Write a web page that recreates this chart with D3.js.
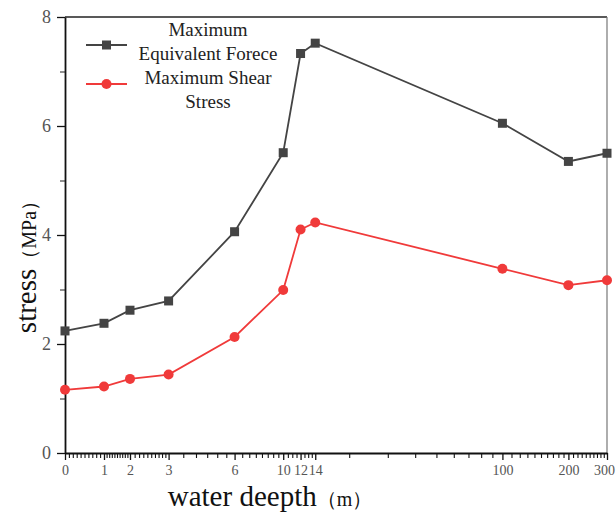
<!DOCTYPE html>
<html lang="en">
<head>
<meta charset="UTF-8">
<title>stress vs water depth</title>
<style>
  body { margin: 0; background: #fff; }
  svg { display: block; font-family: "Liberation Serif", "DejaVu Serif", serif; }
  .tick text { fill: #555; }
</style>
</head>
<body>
<svg id="chart" width="616" height="516"></svg>
<script src="https://cdnjs.cloudflare.com/ajax/libs/d3/7.8.5/d3.min.js"></script>
<script>
// ---- data ----
const depths = [0, 1, 2, 3, 6, 10, 12, 14, 100, 200, 300];
const equivalentForce = [2.24, 2.38, 2.62, 2.79, 4.06, 5.51, 7.33, 7.52, 6.05, 5.35, 5.50];
const shearStress = [1.16, 1.22, 1.36, 1.44, 2.13, 2.99, 4.10, 4.23, 3.38, 3.08, 3.17];
const xTickLabels = [0, 1, 2, 3, 6, 10, 12, 14, 100, 200, 300];
const yTicks = [0, 2, 4, 6, 8];
const yMinorTicks = [1, 3, 5, 7];
const seriesNames = [["Maximum", "Equivalent Forece"], ["Maximum Shear", "Stress"]];

const pLeft = 65, pRight = 607, pTop = 17, pBottom = 453;
const svg = d3.select("#chart");

// x: short linear stretch for 0..2, then log
const xLow = d3.scaleLinear().domain([0, 1, 2]).range([pLeft, pLeft + 39, pLeft + 65]);
const xHigh = d3.scaleLog().domain([2, 300]).range([pLeft + 65, pRight]);
const xPos = v => v < 2 ? xLow(v) : xHigh(v);

// minor ticks on the depth axis
const minor = [];
for (let v = 0.1; v < 3; v += 0.1) minor.push(+v.toFixed(1));
for (let v = 3.5; v < 14; v += 0.5) minor.push(v);
for (let v = 20; v < 100; v += 10) minor.push(v);
for (let v = 110; v < 300; v += 10) minor.push(v);
const minorTicks = minor.filter(v => !xTickLabels.includes(v));

// polylinear scale so d3.axisBottom can place all ticks
const knots = Array.from(new Set([...xTickLabels, ...minorTicks, ...depths])).sort((a, b) => a - b);
const x = d3.scaleLinear().domain(knots).range(knots.map(xPos));

const y = d3.scaleLinear().domain([0, 8]).range([pBottom, pTop]);

// frame (top/right)
svg.append("line").attr("x1", pLeft).attr("x2", pRight).attr("y1", pTop).attr("y2", pTop)
  .attr("stroke", "#222").attr("stroke-width", 1.5);
svg.append("line").attr("x1", pRight).attr("x2", pRight).attr("y1", pTop).attr("y2", pBottom)
  .attr("stroke", "#777").attr("stroke-width", 1.2);

// major axes
const xAxis = svg.append("g").attr("transform", `translate(0,${pBottom})`)
  .call(d3.axisBottom(x).tickValues(xTickLabels).tickSize(7).tickSizeOuter(0).tickPadding(2).tickFormat(d3.format("d")));
xAxis.select(".domain").attr("stroke", "#111").attr("stroke-width", 1.8);
xAxis.selectAll("line").attr("stroke", "#111").attr("stroke-width", 1.3);
xAxis.selectAll("text").attr("font-size", 14).attr("dy", "0.9em")
  .attr("font-family", "Liberation Serif")
  .attr("dx", d => d === 300 ? -3 : 0);

const yAxis = svg.append("g").attr("transform", `translate(${pLeft},0)`)
  .call(d3.axisLeft(y).tickValues(yTicks).tickSize(8).tickSizeOuter(0).tickPadding(6));
yAxis.select(".domain").attr("stroke", "#111").attr("stroke-width", 1.8);
yAxis.selectAll("line").attr("stroke", "#111").attr("stroke-width", 1.3);
yAxis.selectAll("text").attr("font-size", 18).attr("font-family", "Liberation Serif");

// minor ticks
const xMinor = svg.append("g").attr("transform", `translate(0,${pBottom})`)
  .call(d3.axisBottom(x).tickValues(minorTicks).tickSize(5).tickSizeOuter(0).tickFormat(() => ""));
xMinor.select(".domain").remove();
xMinor.selectAll("line").attr("stroke", "#111").attr("stroke-width", 1.1);

const yMinor = svg.append("g").attr("transform", `translate(${pLeft},0)`)
  .call(d3.axisLeft(y).tickValues(yMinorTicks).tickSize(5).tickSizeOuter(0).tickFormat(() => ""));
yMinor.select(".domain").remove();
yMinor.selectAll("line").attr("stroke", "#222");

// series
const series = [
  { values: equivalentForce, color: "#444444", shape: "square" },
  { values: shearStress, color: "#f03a3a", shape: "circle" }
];
const line = d3.line().x(d => x(d[0])).y(d => y(d[1]));

series.forEach(s => {
  const pts = depths.map((d, i) => [d, s.values[i]]);
  svg.append("path").datum(pts).attr("d", line)
    .attr("fill", "none").attr("stroke", s.color).attr("stroke-width", 1.8);
  if (s.shape === "square") {
    svg.append("g").selectAll("rect").data(pts).join("rect")
      .attr("x", d => x(d[0]) - 4.5).attr("y", d => y(d[1]) - 4.5)
      .attr("width", 9).attr("height", 9).attr("fill", s.color);
  } else {
    svg.append("g").selectAll("circle").data(pts).join("circle")
      .attr("cx", d => x(d[0])).attr("cy", d => y(d[1])).attr("r", 5)
      .attr("fill", s.color);
  }
});

// legend
const legend = svg.append("g");
series.forEach((s, i) => {
  const ly = 45 + i * 39;
  legend.append("line").attr("x1", 86).attr("x2", 127).attr("y1", ly).attr("y2", ly)
    .attr("stroke", s.color).attr("stroke-width", 1.8);
  if (s.shape === "square") {
    legend.append("rect").attr("x", 102).attr("y", ly - 4.5).attr("width", 9).attr("height", 9).attr("fill", s.color);
  } else {
    legend.append("circle").attr("cx", 106.5).attr("cy", ly).attr("r", 5).attr("fill", s.color);
  }
  seriesNames[i].forEach((t, j) => {
    legend.append("text").attr("x", 208).attr("y", 36 + i * 48 + j * 24)
      .attr("text-anchor", "middle").attr("font-size", 19).attr("fill", "#222").text(t);
  });
});

// axis titles
svg.append("text").attr("transform", "translate(36,262) rotate(-90)")
  .attr("text-anchor", "middle").attr("fill", "#111")
  .call(t => {
    t.append("tspan").attr("font-size", 29).text("stress");
    t.append("tspan").attr("font-size", 20).text("（MPa）");
  });
svg.append("text").attr("x", 270).attr("y", 506)
  .attr("text-anchor", "middle").attr("fill", "#111")
  .call(t => {
    t.append("tspan").attr("font-size", 29).text("water deepth");
    t.append("tspan").attr("font-size", 20).text("（m）");
  });
</script>
</body>
</html>
